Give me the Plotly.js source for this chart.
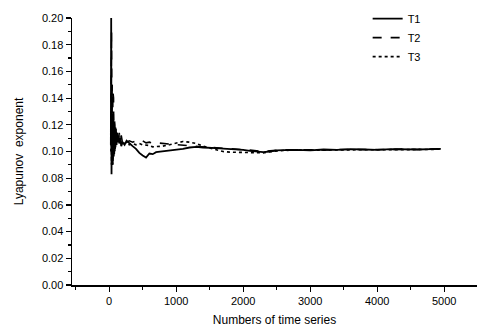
<!DOCTYPE html>
<html>
<head>
<meta charset="utf-8">
<script src="https://cdn.plot.ly/plotly-3.0.1.min.js"></script>
<style>html,body{margin:0;padding:0;background:#fff;}#chart{width:481px;height:330px;}</style>
</head>
<body>
<div id="chart"></div>
<script>
var seriesX = [25,30,35,40,45,50,55,60,65,70,75,80,85,90,95,100,110,120,130,140,150,165,180,200,230,260,300,350,400,450,500,550,600,650,700,800,900,1000,1100,1200,1300,1400,1500,1600,1700,1800,1900,2000,2100,2200,2300,2400,2500,2600,2800,3000,3200,3400,3600,3800,4000,4200,4400,4600,4800,4950];

var t1 = [0.105,0.200,0.083,0.150,0.090,0.135,0.095,0.128,0.100,0.122,0.098,0.118,0.102,0.115,0.104,0.117,0.105,0.114,0.108,0.112,0.106,0.110,0.104,0.107,0.105,0.108,0.106,0.104,0.102,0.099,0.097,0.0955,0.0985,0.098,0.0995,0.100,0.1005,0.101,0.102,0.103,0.1035,0.103,0.1025,0.1025,0.1022,0.102,0.1015,0.1012,0.1005,0.0998,0.0995,0.100,0.1008,0.101,0.1012,0.1008,0.1015,0.1012,0.1018,0.1015,0.1012,0.1018,0.1015,0.1015,0.1018,0.102];

var t2 = [0.110,0.150,0.190,0.120,0.150,0.090,0.145,0.100,0.140,0.095,0.125,0.100,0.120,0.105,0.118,0.108,0.116,0.107,0.113,0.109,0.114,0.108,0.112,0.106,0.109,0.107,0.108,0.107,0.108,0.107,0.108,0.1065,0.107,0.106,0.1065,0.106,0.1055,0.1055,0.105,0.1045,0.104,0.1035,0.103,0.1028,0.1025,0.1022,0.102,0.1015,0.101,0.1005,0.100,0.1005,0.101,0.1012,0.1012,0.101,0.1012,0.1015,0.1015,0.1012,0.1015,0.1015,0.1018,0.1015,0.1018,0.102];

var t3 = [0.100,0.125,0.090,0.130,0.100,0.120,0.090,0.118,0.098,0.112,0.102,0.110,0.100,0.112,0.104,0.110,0.106,0.111,0.106,0.109,0.107,0.109,0.106,0.108,0.106,0.107,0.105,0.106,0.105,0.106,0.105,0.105,0.1045,0.1035,0.1035,0.104,0.105,0.1065,0.1075,0.107,0.106,0.104,0.1025,0.101,0.100,0.0995,0.0993,0.0995,0.0992,0.0988,0.099,0.0998,0.1005,0.1008,0.101,0.1008,0.101,0.1012,0.1012,0.101,0.1012,0.1015,0.1012,0.1015,0.1015,0.1018];

var names = ['T1','T2','T3'];
var yTicks = [0,0.02,0.04,0.06,0.08,0.10,0.12,0.14,0.16,0.18,0.20];
var xTicks = [0,1000,2000,3000,4000,5000];

var traces = [
  {x: seriesX, y: t1, name: names[0], mode: 'lines', line: {color: '#000', width: 1.8, dash: 'solid'}},
  {x: seriesX, y: t2, name: names[1], mode: 'lines', line: {color: '#000', width: 1.6, dash: 'dash'}},
  {x: seriesX, y: t3, name: names[2], mode: 'lines', line: {color: '#000', width: 1.6, dash: 'dot'}}
];

var fontFam = 'Liberation Sans, Arial, sans-serif';
var layout = {
  width: 481, height: 330,
  margin: {l: 72, r: 4, t: 13, b: 45},
  paper_bgcolor: '#fff', plot_bgcolor: '#fff',
  font: {family: fontFam, size: 11, color: '#000'},
  showlegend: true,
  legend: {x: 0.73, y: 1.052, xanchor: 'left', yanchor: 'top', bgcolor: 'rgba(0,0,0,0)', font: {size: 11, family: fontFam}, tracegroupgap: 0, itemwidth: 30},
  xaxis: {
    range: [-555, 5490], showgrid: false, zeroline: false,
    showline: true, linecolor: '#000', linewidth: 1.5,
    tickvals: xTicks, ticktext: xTicks.map(String),
    ticks: 'outside', ticklen: 5, tickwidth: 1.2, tickcolor: '#000',
    minor: {dtick: 500, tick0: 0, ticks: 'outside', ticklen: 3, tickcolor: '#000'},
    tickfont: {size: 11},
    title: {text: 'Numbers of time series', font: {size: 12}, standoff: 10}
  },
  yaxis: {
    range: [0, 0.2], showgrid: false, zeroline: false,
    showline: true, linecolor: '#000', linewidth: 1.5,
    tickvals: yTicks, ticktext: yTicks.map(function(v){return v.toFixed(2);}),
    ticks: 'outside', ticklen: 5, tickwidth: 1.2, tickcolor: '#000',
    minor: {dtick: 0.01, tick0: 0, ticks: 'outside', ticklen: 3, tickcolor: '#000'},
    tickfont: {size: 11},
    title: {text: 'Lyapunov  exponent', font: {size: 12}, standoff: 15}
  }
};

Plotly.newPlot('chart', traces, layout, {displayModeBar: false, staticPlot: true});
</script>
</body>
</html>
